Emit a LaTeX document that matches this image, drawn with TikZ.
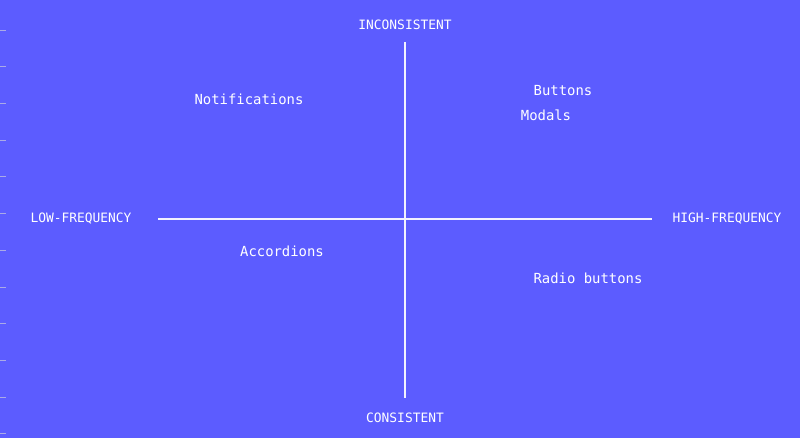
\documentclass[tikz,border=0pt]{standalone}
\usepackage{fontspec}
\setmonofont{DejaVu Sans Mono}
\definecolor{bgblue}{RGB}{92,92,255}
\definecolor{tickgray}{RGB}{170,170,230}
\tikzset{
  lbl/.style={text=white, font=\ttfamily\fontsize{13.9}{16}\selectfont, inner sep=0pt},
  axislbl/.style={text=white, font=\ttfamily\fontsize{12.9}{15}\selectfont, inner sep=0pt},
  axis/.style={draw=white!92!bgblue, line width=1.3pt}
}
\begin{document}
\begin{tikzpicture}[x=1pt,y=-1pt]
\fill[bgblue] (0,0) rectangle (800,438);
\useasboundingbox (0,0) rectangle (800,438);
% left edge ticks
\foreach \i in {0,...,11}
  \draw[tickgray, line width=0.8pt] (0,30+36.7*\i) -- (6,30+36.7*\i);
\coordinate (top) at (405,42);
\coordinate (bottom) at (405,398);
\coordinate (left) at (158,219);
\coordinate (right) at (652,219);
\node[axislbl](incons) at (405,25) {INCONSISTENT};
\node[axislbl](cons) at (405,418) {CONSISTENT};
\node[axislbl](lowf) at (81,219) {LOW-FREQUENCY};
\node[axislbl](highf) at (727,219) {HIGH-FREQUENCY};
\node[lbl](notif) at (249,99) {Notifications};
\node[lbl](buttons) at (563,91) {Buttons};
\node[lbl](modals) at (546,115) {Modals};
\node[lbl](accord) at (282,251) {Accordions};
\node[lbl](radio) at (588,278) {Radio buttons};
\path[axis] (top) edge (bottom);
\path[axis] (left) edge (right);
\end{tikzpicture}
\end{document}
